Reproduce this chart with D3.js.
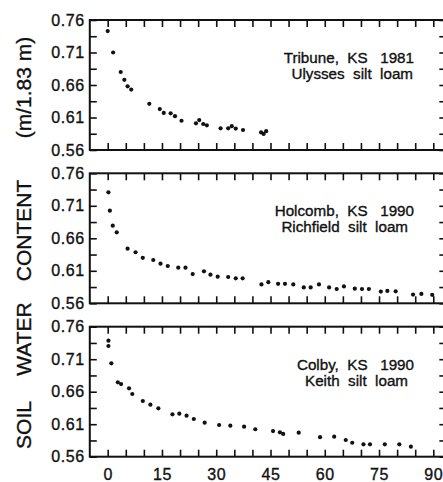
<!DOCTYPE html>
<html>
<head>
<meta charset="utf-8">
<script src="https://cdn.jsdelivr.net/npm/d3@7"></script>
<style>
  html, body { margin: 0; padding: 0; background: #fff; }
  svg { display: block; }
  text { font-family: "Liberation Sans", Arial, Helvetica, sans-serif; fill: #111; stroke: #111; stroke-width: 0.35px; }
</style>
</head>
<body>
<svg id="chart" width="443" height="482"></svg>
<script>
// ---------------- data ----------------
const panelTitles = ["Tribune,  KS   1981", "Holcomb,  KS   1990", "Colby,  KS   1990"];
const panelSoils  = ["Ulysses  silt  loam", "Richfield  silt  loam", "Keith  silt  loam"];

const tribuneDays = [0, 1.5, 3.6, 4.6, 5.5, 6.5, 11.5, 14.4, 15.5, 17.4, 18.6, 20.4, 24.4, 25.3, 26.4, 27.4, 31.2, 33.3, 34.3, 35.4, 37.4, 42.4, 43.1, 43.8];
const tribuneWater = [0.743, 0.710, 0.680, 0.668, 0.658, 0.653, 0.631, 0.623, 0.617, 0.6165, 0.612, 0.605, 0.601, 0.606, 0.600, 0.598, 0.5934, 0.5934, 0.5967, 0.593, 0.5908, 0.587, 0.5848, 0.589];

const holcombDays = [0.2, 0.6, 1.4, 2.5, 5.5, 7.7, 9.7, 12.6, 14.6, 16.6, 19.5, 21.5, 23.5, 26.6, 28.4, 30.4, 33.3, 35.4, 37.3, 42.5, 44.4, 47.1, 49.0, 51.3, 54.2, 56.1, 58.4, 61.2, 63.3, 65.3, 68.3, 70.3, 72.2, 75.5, 77.3, 79.6, 84.4, 86.7, 89.7];
const holcombWater = [0.7308, 0.7025, 0.6794, 0.6692, 0.644, 0.6385, 0.630, 0.6266, 0.621, 0.6174, 0.6148, 0.6148, 0.605, 0.6092, 0.604, 0.601, 0.6005, 0.5985, 0.5985, 0.589, 0.5925, 0.590, 0.590, 0.589, 0.5845, 0.5845, 0.589, 0.5845, 0.582, 0.586, 0.5825, 0.582, 0.582, 0.578, 0.579, 0.5785, 0.5735, 0.5745, 0.573];

const colbyDays = [0.2, 0.2, 1.0, 2.8, 3.7, 5.9, 6.8, 9.7, 11.8, 14.0, 17.9, 19.8, 21.8, 23.8, 26.8, 30.8, 33.9, 37.7, 40.8, 45.7, 47.6, 48.5, 52.8, 58.7, 62.6, 65.8, 67.6, 70.7, 72.5, 76.6, 80.6, 83.8];
const colbyWater = [0.7385, 0.7303, 0.7037, 0.6745, 0.6718, 0.6652, 0.6565, 0.6457, 0.640, 0.6345, 0.6252, 0.6262, 0.6231, 0.618, 0.6123, 0.6088, 0.6077, 0.6062, 0.6022, 0.5995, 0.5975, 0.595, 0.597, 0.590, 0.5908, 0.5857, 0.5815, 0.579, 0.579, 0.579, 0.579, 0.5754];

const xTicks = [0, 5, 10, 15, 20, 25, 30, 35, 40, 45, 50, 55, 60, 65, 70, 75, 80, 85, 90];
const xTickLabels = [0, 15, 30, 45, 60, 75, 90];
const yTicks = [0.56, 0.585, 0.61, 0.635, 0.66, 0.685, 0.71, 0.735, 0.76];
const yTickLabels = [0.56, 0.61, 0.66, 0.71, 0.76];
const yLabelWords = ["SOIL", "WATER", "CONTENT", "(m/1.83 m)"];

const seriesDays = [tribuneDays, holcombDays, colbyDays];
const seriesWater = [tribuneWater, holcombWater, colbyWater];

// ---------------- layout ----------------
const svg = d3.select("#chart");
svg.append("rect").attr("width", 443).attr("height", 482).attr("fill", "#fff");

const x = d3.scaleLinear().domain([0, 90]).range([107.7, 433.3]);
const frameLeft = x(-4.95), frameRight = x(93.6);
const panelTops = [20, 173.3, 326.7];
const panelH = 130;
const tickLen = 7;

panelTops.forEach((top, i) => {
  const y = d3.scaleLinear().domain([0.56, 0.76]).range([top + panelH, top]);
  const g = svg.append("g");

  const left = d3.axisLeft(y).tickValues(yTicks).tickSizeInner(-tickLen).tickSizeOuter(0).tickPadding(5)
    .tickFormat(d => yTickLabels.some(v => Math.abs(v - d) < 1e-6) ? d3.format(".2f")(d) : "");
  const gl = g.append("g").attr("transform", `translate(${frameLeft},0)`).call(left);
  const right = d3.axisRight(y).tickValues(yTicks).tickSizeInner(-tickLen).tickSizeOuter(0).tickFormat("");
  const gr = g.append("g").attr("transform", `translate(${frameRight},0)`).call(right);
  const topAx = d3.axisTop(x).tickValues(xTicks).tickSizeInner(-tickLen).tickSizeOuter(0).tickFormat("");
  const gt = g.append("g").attr("transform", `translate(0,${top})`).call(topAx);
  const bot = d3.axisBottom(x).tickValues(xTicks).tickSizeInner(-tickLen).tickSizeOuter(0).tickPadding(12)
    .tickFormat(d => (i === 2 && xTickLabels.includes(d)) ? String(d) : "");
  const gb = g.append("g").attr("transform", `translate(0,${top + panelH})`).call(bot);

  [gl, gr, gt, gb].forEach(ax => {
    ax.select(".domain").remove();
    ax.selectAll(".tick line").attr("stroke", "#111").attr("stroke-width", 1.6);
    ax.selectAll(".tick text").attr("font-size", 16).attr("fill", "#111")
      .style("font-family", "'Liberation Sans', Arial, sans-serif").style("letter-spacing", "0.6px");
  });

  g.append("rect")
    .attr("x", frameLeft).attr("y", top)
    .attr("width", frameRight - frameLeft).attr("height", panelH)
    .attr("fill", "none").attr("stroke", "#111").attr("stroke-width", 2);

  const days = seriesDays[i], water = seriesWater[i];
  g.selectAll("circle.pt").data(days.map((d, k) => [d, water[k]])).enter()
    .append("circle").attr("class", "pt")
    .attr("cx", d => x(d[0])).attr("cy", d => y(d[1]))
    .attr("r", 2.1).attr("fill", "#111");

  g.append("text").attr("x", 414).attr("y", top + 43).attr("text-anchor", "end")
    .attr("xml:space", "preserve").style("white-space", "pre")
    .attr("font-size", 15.2).text(panelTitles[i]);
  g.append("text").attr("x", i === 0 ? 413 : 408).attr("y", top + 59).attr("text-anchor", "end")
    .attr("xml:space", "preserve").style("white-space", "pre")
    .attr("font-size", 15.2).text(panelSoils[i]);
});

const wordCenters = [425, 339, 230.5, 87.5];
yLabelWords.forEach((w, k) => {
  svg.append("text")
    .attr("transform", `translate(31,${wordCenters[k]}) rotate(-90)`)
    .attr("text-anchor", "middle")
    .attr("font-size", 21)
    .text(w);
});
</script>
</body>
</html>
